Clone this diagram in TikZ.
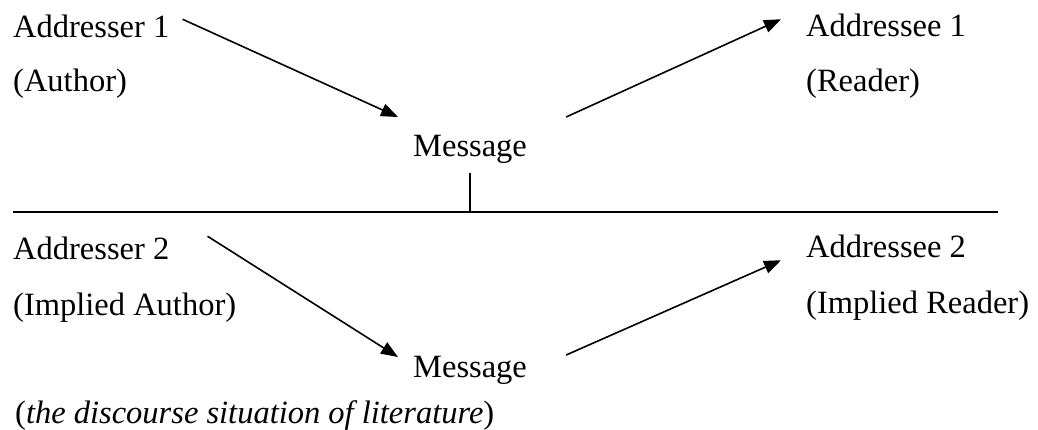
\documentclass[tikz,border=0pt]{standalone}
\usepackage{fontspec}
\setmainfont{Liberation Serif}
\usetikzlibrary{arrows.meta}
\begin{document}
\begin{tikzpicture}[x=1pt,y=-1pt,
  lbl/.style={anchor=base west,inner sep=0pt,font=\fontsize{32.5}{39}\selectfont},
  flow/.style={-{Triangle[length=17pt,width=13pt]},line width=1.6pt}]
\useasboundingbox (0,0) rectangle (1038,430);
% real level
\node[lbl] (ar1) at (13,38) {Addresser 1};
\node[lbl] (au1) at (13,92) {(Author)};
\node[lbl] (msg1) at (413,157) {Message};
\node[lbl] (ae1) at (806,37) {Addressee 1};
\node[lbl] (rd1) at (806,92) {(Reader)};
\draw[flow] ([xshift=13pt,yshift=-4pt]ar1.north east) -- ([xshift=-15pt,yshift=18.5pt]msg1.north west);
\draw[flow] ([xshift=39pt,yshift=18.5pt]msg1.north east) -- ([xshift=-25pt,yshift=-5pt]ae1.north west);
% dividing line
\coordinate (lineL) at (13,212);
\coordinate (lineR) at (998,212);
\draw[line width=1.6pt] (lineL) -- (lineR);
\draw[line width=1.6pt] ([yshift=-9pt]msg1.south) -- (msg1.south |- lineL);
% implied level
\node[lbl] (ar2) at (13,260) {Addresser 2};
\node[lbl] (au2) at (13,315) {(Implied Author)};
\node[lbl] (msg2) at (413,377) {Message};
\node[lbl] (ae2) at (806,258) {Addressee 2};
\node[lbl] (rd2) at (806,313) {(Implied Reader)};
\draw[flow] ([xshift=38pt,yshift=1pt]ar2.north east) -- ([xshift=-15pt,yshift=-1.5pt]msg2.north west);
\draw[flow] ([xshift=39pt,yshift=0.5pt]msg2.north east) -- ([xshift=-25pt,yshift=-25pt]ae2.north west);
\node[lbl] (cap) at (15,423) {(\textit{the discourse situation of literature})};
\end{tikzpicture}
\end{document}
